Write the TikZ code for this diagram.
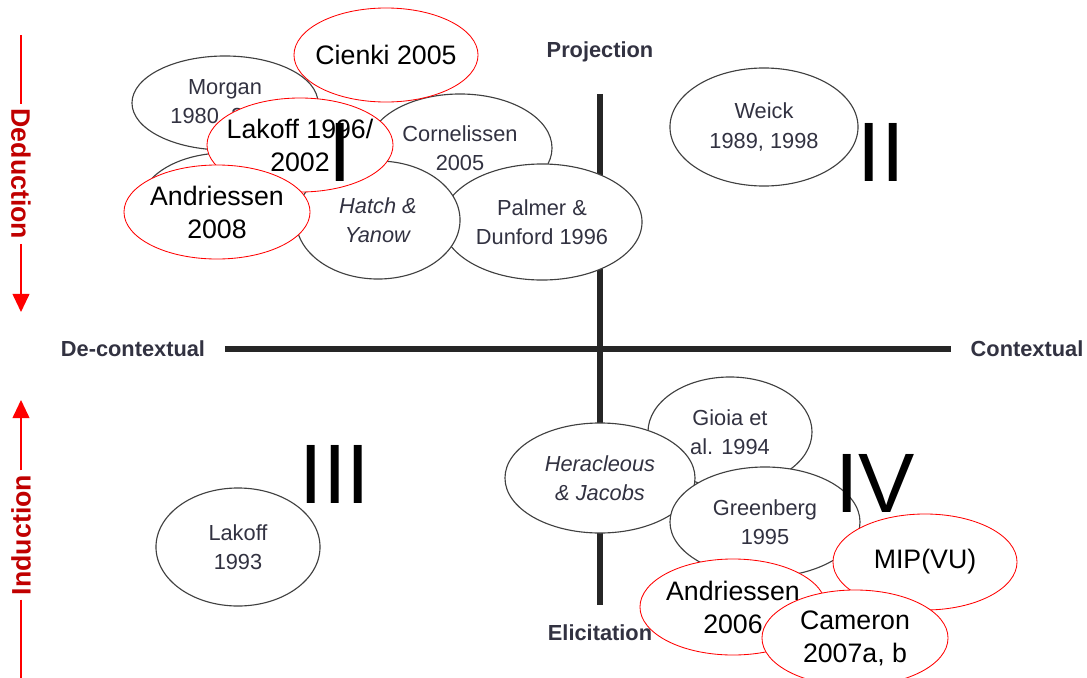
\documentclass[tikz,border=0pt]{standalone}
\usepackage{fontspec}
\setmainfont{Liberation Sans}
\usetikzlibrary{shapes.geometric, arrows.meta, positioning}
\definecolor{PaperInk}{RGB}{50,50,65}
\definecolor{DeepRed}{RGB}{192,0,0}
\tikzset{
  oldwork/.style={ellipse, draw=black!75, line width=0.8pt, fill=white, text=PaperInk, inner sep=0pt, align=center, font=\fontsize{15.5}{21}\selectfont},
  newwork/.style={ellipse, draw=red, line width=0.6pt, fill=white, inner xsep=-8pt, inner ysep=-4pt, align=center, font=\fontsize{19}{23.5}\selectfont},
  axislabel/.style={text=PaperInk, font=\bfseries\fontsize{15.5}{18}\selectfont, inner sep=1pt},
  axisline/.style={line width=4.3pt, black!85},
  quadrant/.style={inner sep=0pt, font=\fontsize{60}{60}\selectfont},
  direction/.style={text=DeepRed, font=\bfseries\fontsize{19}{20}\selectfont, inner sep=3pt},
  dirline/.style={red, line width=1pt}
}

\begin{document}
\begin{tikzpicture}[x=0.025cm, y=-0.025cm]
    \useasboundingbox (0,0) rectangle (1087,678);

    % axes
    \node[axislabel] (proj) at (600,52) {Projection};
    \node[axislabel] (elic) at (600,633) {Elicitation};
    \node[axislabel] (decon) at (133,349) {De-contextual};
    \node[axislabel] (con) at (1027,349) {Contextual};
    \draw[axisline, shorten <=0.45cm, shorten >=0.45cm] (decon) -- (con);
    \draw[axisline, shorten <=0.75cm, shorten >=0.45cm] (proj) -- (elic);

    % deduction / induction
    \coordinate (dedtop) at (21,35);
    \coordinate (dedtip) at (21,312);
    \node[direction, rotate=-90] (ded) at (21,174) {Deduction};
    \draw[dirline] (dedtop) -- (ded);
    \draw[dirline, -{Triangle[width=0.42cm, length=0.45cm]}] (ded) -- (dedtip);
    \coordinate (indtip) at (21,400);
    \coordinate (indbottom) at (21,678);
    \node[direction, rotate=90] (ind) at (21,535) {Induction};
    \draw[dirline, -{Triangle[width=0.42cm, length=0.45cm]}] (ind) -- (indtip);
    \draw[dirline] (ind) -- (indbottom);

    % quadrant I
    \node[oldwork, minimum width=4.65cm, minimum height=2.35cm] (morgan) at (225,103) {Morgan\\1980, 2006};
    \node[oldwork, minimum width=4.25cm, minimum height=2.6cm] (covered) at (225,205) {};
    \node[oldwork, minimum width=4.6cm, minimum height=2.7cm] (cornelissen) at (460,148) {Cornelissen\\2005};
    \node[oldwork, minimum width=5cm, minimum height=2.9cm] (palmer) at (542,222) {Palmer \&\\Dunford 1996};
    \node[oldwork, minimum width=4.1cm, minimum height=2.95cm] (hatch) at (378,220) {\textit{Hatch \&}\\\textit{Yanow}};
    \node[newwork, minimum width=4.6cm, minimum height=2.35cm] (cienki) at (386,55) {Cienki 2005};
    \node[newwork, minimum width=4.65cm, minimum height=2.35cm] (lakoffa) at (300,145) {Lakoff 1996/\\2002};
    \node[newwork, minimum width=4.65cm, minimum height=2.35cm] (andriessena) at (217,212) {Andriessen\\2008};
    \node[quadrant] (qone) at (340,152) {I};

    % quadrant II
    \node[oldwork, minimum width=4.7cm, minimum height=2.95cm] (weick) at (764,127) {Weick\\1989, 1998};
    \node[quadrant] (qtwo) at (881,152) {II};

    % quadrant III
    \node[oldwork, minimum width=4.1cm, minimum height=2.95cm] (lakoffb) at (238,547) {Lakoff\\1993};
    \node[quadrant] (qthree) at (335,474) {III};

    % quadrant IV
    \node[oldwork, minimum width=4.1cm, minimum height=2.75cm] (gioia) at (730,432) {Gioia et\\al. 1994};
    \node[oldwork, minimum width=4.75cm, minimum height=2.75cm] (heracleous) at (600,478) {\textit{Heracleous}\\\textit{\& Jacobs}};
    \node[oldwork, minimum width=4.75cm, minimum height=2.75cm] (greenberg) at (765,522) {Greenberg\\1995};
    \node[newwork, minimum width=4.6cm, minimum height=2.4cm] (mip) at (925,562) {MIP(VU)};
    \node[newwork, minimum width=4.65cm, minimum height=2.4cm] (andriessenb) at (733,607) {Andriessen\\2006};
    \node[newwork, minimum width=4.65cm, minimum height=2.4cm] (cameron) at (855,638) {Cameron\\2007a, b};
    \node[quadrant] (qfour) at (875,483) {IV};
\end{tikzpicture}
\end{document}
